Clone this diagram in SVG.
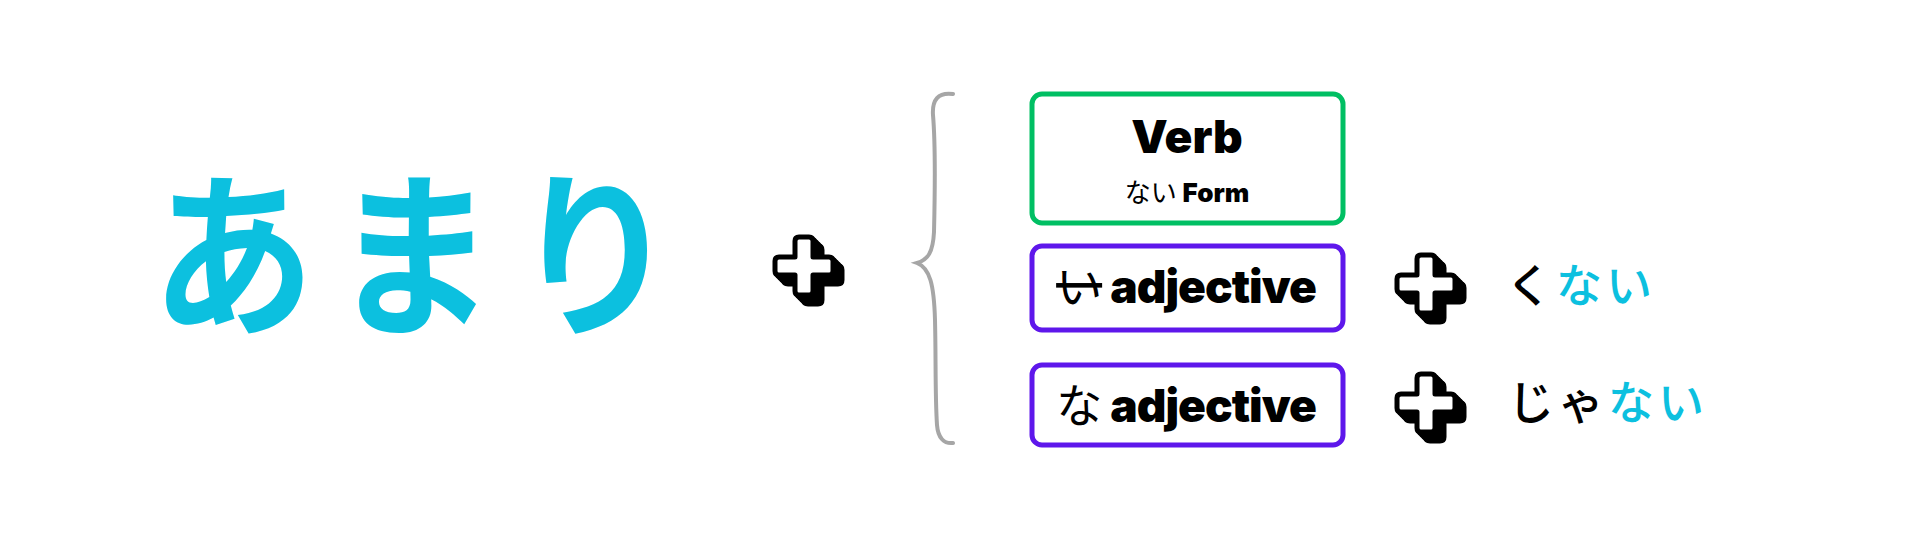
<svg xmlns="http://www.w3.org/2000/svg" width="1920" height="540" viewBox="0 0 1920 540">
<style>
.jp{font-family:"Noto Sans CJK JP","Noto Sans",sans-serif}
.big{font-size:178px;font-weight:700;fill:#0cc0df;letter-spacing:19px}
.lat{font-family:Inter,Lato,"Noto Sans",sans-serif;font-weight:900;fill:#000}
.box{fill:#fff;stroke-width:5}
.cyan{fill:#0cc0df}
.suf{font-size:46px;font-weight:500;letter-spacing:4px}
</style>
<defs>
<path id="cr" d="M-5,-29 H5 Q9,-29 9,-25 V-9 H25 Q29,-9 29,-5 V5 Q29,9 25,9 H9 V25 Q9,29 5,29 H-5 Q-9,29 -9,25 V9 H-25 Q-29,9 -29,5 V-5 Q-29,-9 -25,-9 H-9 V-25 Q-9,-29 -5,-29 Z" stroke-linejoin="round"/>
<g id="plus">
<use href="#cr" x="2" y="2" fill="#000" stroke="#000" stroke-width="5"/>
<use href="#cr" x="4" y="4" fill="#000" stroke="#000" stroke-width="5"/>
<use href="#cr" x="6" y="6" fill="#000" stroke="#000" stroke-width="5"/>
<use href="#cr" x="8" y="8" fill="#000" stroke="#000" stroke-width="5"/>
<use href="#cr" x="9" y="9" fill="#000" stroke="#000" stroke-width="5"/>
<use href="#cr" fill="#fff" stroke="#000" stroke-width="5"/>
</g>
</defs>
<rect width="1920" height="540" fill="#fff"/>
<g id="title">
<text class="jp big" transform="translate(423,322) scale(0.92,1)" x="0" y="0" text-anchor="middle">あまり</text>
</g>
<g id="plus1"><use href="#plus" x="804" y="266"/></g>
<g id="connectors">
<path d="M953,94 C938,92 932,100 933,115 C936,150 935,190 934,232 C933,252 928,260 917,263 C930,268 934,285 935,320 C936,360 935,395 937,425 C938,438 944,444 953,443" fill="none" stroke="#a6a6a6" stroke-width="4" stroke-linecap="round"/>
</g>
<g id="verb">
<rect class="box" x="1032" y="94" width="311" height="129" rx="10" stroke="#00bf63"/>
<text class="lat" x="1187" y="153" font-size="46" text-anchor="middle">Verb</text>
<text x="1187" y="202" font-size="26" text-anchor="middle"><tspan class="jp" font-weight="400">ない </tspan><tspan class="lat">Form</tspan></text>
</g>
<g id="i-adj">
<rect class="box" x="1032" y="246" width="311" height="84" rx="10" stroke="#5e17eb"/>
<text x="1186" y="303" font-size="46" text-anchor="middle"><tspan class="jp" font-weight="400" text-decoration="line-through">い</tspan><tspan class="lat" letter-spacing="-1"> adjective</tspan></text>
</g>
<g id="na-adj">
<rect class="box" x="1032" y="365" width="311" height="80" rx="10" stroke="#5e17eb"/>
<text x="1186" y="422" font-size="46" text-anchor="middle"><tspan class="jp" font-weight="400">な</tspan><tspan class="lat" letter-spacing="-1"> adjective</tspan></text>
</g>
<g id="plus2"><use href="#plus" x="1426" y="284"/></g>
<g id="plus3"><use href="#plus" x="1426" y="403"/></g>
<g id="kunai">
<text class="jp suf" x="1506" y="302">く<tspan class="cyan">ない</tspan></text>
</g>
<g id="janai">
<text class="jp suf" x="1508" y="419">じゃ<tspan class="cyan">ない</tspan></text>
</g>
</svg>
